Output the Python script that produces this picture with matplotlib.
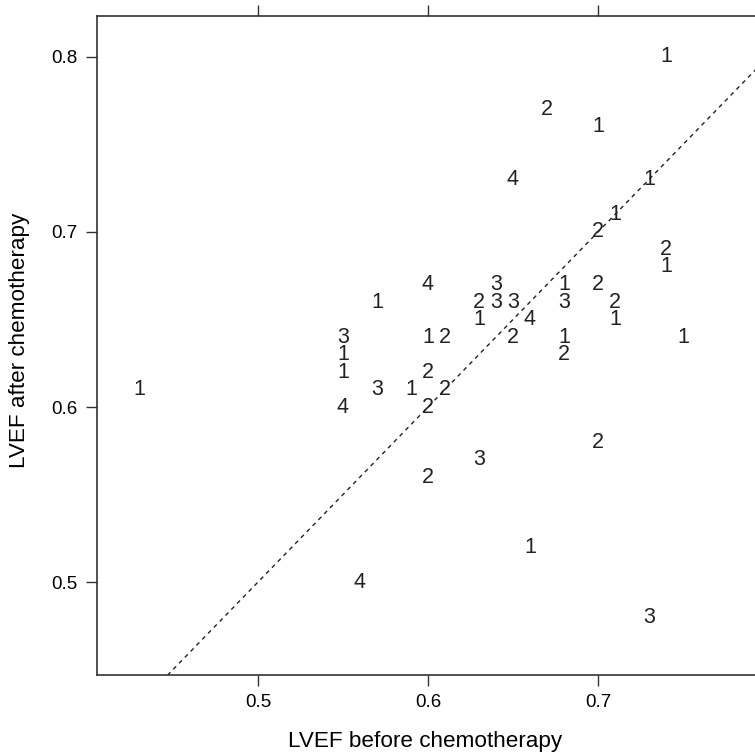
import matplotlib
matplotlib.use("Agg")
import matplotlib.pyplot as plt

plt.rcParams['font.family'] = ['Liberation Sans', 'DejaVu Sans']

# LVEF before / after chemotherapy, labelled by group
before = [0.43, 0.74, 0.67, 0.70, 0.65, 0.73, 0.71, 0.70, 0.74, 0.74,
          0.57, 0.60, 0.64, 0.63, 0.64, 0.65, 0.63, 0.66, 0.68, 0.68,
          0.70, 0.71, 0.71, 0.75, 0.55, 0.55, 0.55, 0.55, 0.57, 0.59,
          0.60, 0.61, 0.60, 0.61, 0.60, 0.65, 0.68, 0.68, 0.70, 0.63,
          0.60, 0.66, 0.56, 0.73]
after = [0.61, 0.80, 0.77, 0.76, 0.73, 0.73, 0.71, 0.70, 0.69, 0.68,
         0.66, 0.67, 0.67, 0.66, 0.66, 0.66, 0.65, 0.65, 0.67, 0.66,
         0.67, 0.66, 0.65, 0.64, 0.64, 0.63, 0.62, 0.60, 0.61, 0.61,
         0.64, 0.64, 0.62, 0.61, 0.60, 0.64, 0.64, 0.63, 0.58, 0.57,
         0.56, 0.52, 0.50, 0.48]
group = ['1', '1', '2', '1', '4', '1', '1', '2', '2', '1',
         '1', '4', '3', '2', '3', '3', '1', '4', '1', '3',
         '2', '2', '1', '1', '3', '1', '1', '4', '3', '1',
         '1', '2', '2', '2', '2', '2', '1', '2', '2', '3',
         '2', '1', '4', '3']

fig = plt.figure(figsize=(7.55, 7.52), dpi=100)
# the panel runs past the right edge of the picture, as in the original
ax = fig.add_axes([97/755, 77/752, 689/755, 659/752])

for x, y, g in zip(before, after, group):
    ax.text(x, y, g, ha='center', va='center', fontsize=15.5, color='#222222')

# identity line
ax.plot([0.40, 0.85], [0.40, 0.85], linestyle=(0, (3, 3)), color='#222222', lw=1)

ax.set_xlim(0.4053, 0.8106)
ax.set_ylim(0.4469, 0.8234)
ax.set_xticks([0.5, 0.6, 0.7])
ax.set_yticks([0.5, 0.6, 0.7, 0.8])
ax.tick_params(direction='out', length=8, width=1, color='#333333',
               labelsize=13.5, top=True, right=True, pad=6)
for s in ax.spines.values():
    s.set_color('#333333')
    s.set_linewidth(1.2)

ax.set_xlabel('LVEF before chemotherapy', fontsize=16.2)
ax.set_ylabel('LVEF after chemotherapy', fontsize=16.2)
ax.xaxis.set_label_coords(0.476, -0.085)
ax.yaxis.set_label_coords(-0.097, 0.508)

fig.savefig('out.png', dpi=100)
